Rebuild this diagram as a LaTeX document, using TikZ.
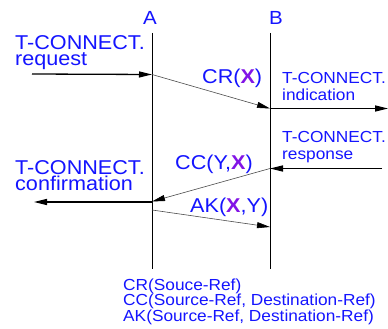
\documentclass[tikz,border=0pt]{standalone}
\usepackage{fontspec}
\setmainfont[FakeStretch=1.08]{Liberation Sans}
\usetikzlibrary{arrows.meta}
\definecolor{lblue}{RGB}{20,20,255}
\definecolor{xviolet}{RGB}{130,20,230}
\newcommand{\xref}{\textcolor{xviolet}{\textbf{X}}}

\begin{document}
\begin{tikzpicture}[x=1pt,y=-1pt,
  life/.style={line width=1pt},
  tip/.style={-{Triangle[length=13pt,width=6pt,color=black]}},
  svc/.style={line width=1.3pt,tip},
  pdu/.style={line width=0.6pt,draw=black!70,tip},
  head/.style={text=lblue,font=\fontsize{19}{19}\selectfont,inner sep=0pt,anchor=base},
  big/.style={text=lblue,font=\fontsize{20}{17}\selectfont,inner sep=0pt,anchor=base west},
  small/.style={text=lblue,font=\fontsize{16}{17}\selectfont,inner sep=0pt,anchor=base west},
  note/.style={text=lblue,font=\fontsize{16}{15.5}\selectfont,inner sep=0pt,anchor=base west}
]
\fill[white] (0,0) rectangle (388,329);
\useasboundingbox (0,0) rectangle (388,329);

% entities
\node[head] (hA) at (150,25) {A};
\node[head] (hB) at (276,25) {B};
\coordinate (At) at (152,33);
\coordinate (Ab) at (152,269);
\coordinate (Bt) at (270,33);
\coordinate (Bb) at (270,269);
\draw[life] (At) -- (Ab);
\draw[life] (Bt) -- (Bb);

% connection points
\coordinate (reqS) at (32,74);
\coordinate (A1) at (152,74.5);
\coordinate (B1) at (270,108.5);
\coordinate (indE) at (388,108.5);
\coordinate (resS) at (382,168.5);
\coordinate (B2) at (270,168.5);
\coordinate (A2) at (152,201.5);
\coordinate (cnfE) at (34,202);
\coordinate (A3) at (152,210);
\coordinate (B3) at (270,227);

% service primitives and PDUs
\draw[svc] (reqS) -- (A1);
\draw[pdu] (A1) -- (B1);
\draw[svc] (B1) -- (indE);
\draw[svc] (resS) -- (B2);
\draw[pdu] (B2) -- (A2);
\draw[svc] (A2 |- cnfE) -- (cnfE);
\draw[pdu] (A3) -- (B3);

% primitive names, one node per line
\node[big] (lreq1) at (15,49.5) {T-CONNECT.};
\node[big] (lreq2) at (15,66) {request};
\node[small] (lind1) at (282,83) {T-CONNECT.};
\node[small] (lind2) at (282,100) {indication};
\node[small] (lres1) at (282,142) {T-CONNECT.};
\node[small] (lres2) at (282,159) {response};
\node[big] (lcnf1) at (15,174) {T-CONNECT.};
\node[big] (lcnf2) at (15,190) {confirmation};

% PDU names
\node[big] (lcr) at (202,84) {CR(\xref)};
\node[big] (lcc) at (175,169.5) {CC(Y,\xref)};
\node[big] (lak) at (190,212) {AK(\xref,Y)};

% parameter legend
\node[note] (ln1) at (123,290) {CR(Souce-Ref)};
\node[note] (ln2) at (123,305.5) {CC(Source-Ref, Destination-Ref)};
\node[note] (ln3) at (123,321) {AK(Source-Ref, Destination-Ref)};
\end{tikzpicture}
\end{document}
